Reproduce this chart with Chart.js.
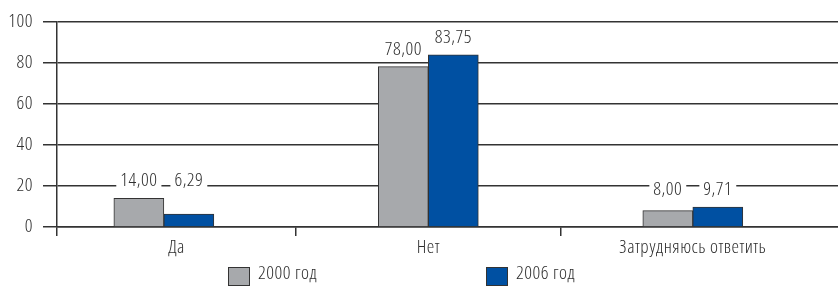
<!DOCTYPE html>
<html>
<head>
<meta charset="utf-8">
<script src="https://cdn.jsdelivr.net/npm/chart.js@4/dist/chart.umd.min.js"></script>
<style>
  html, body { margin: 0; padding: 0; background: #fff; }
  #wrap { width: 838px; height: 286px; }
</style>
</head>
<body>
<div id="wrap"><canvas id="c" width="838" height="286"></canvas></div>
<script>
// ---- data ----
const categories = ['Да', 'Нет', 'Затрудняюсь ответить'];
const seriesNames = ['2000 год', '2006 год'];
const values2000 = [14.00, 78.00, 8.00];
const values2006 = [6.29, 83.75, 9.71];
const yTicks = [0, 20, 40, 60, 80, 100];

// ---- style ----
const FAMILY = "'Open Sans', 'DejaVu Sans Condensed', sans-serif";
const WEIGHT = '330 condensed';
const FSIZE = 19;
const CANVAS_FONT = 'normal ' + WEIGHT + ' ' + FSIZE + 'px ' + FAMILY;
const SPACING = '0.5px';
const TEXT = '#2e2e2e';
const AXIS = '#333333';
const GRAY = '#a7a9ac';
const BLUE = '#0050a2';
const X_MIN = -0.404, X_MAX = 2.549;

const xTickValues = [X_MIN, (X_MIN + 0.5) / 2, 0.5, 1, 1.5, 2];

function fmt(v) { return v.toFixed(2).replace('.', ','); }

const spacingPlugin = {
  id: 'letterSpacing',
  beforeUpdate(chart) { chart.ctx.letterSpacing = SPACING; },
  beforeDraw(chart) { chart.ctx.letterSpacing = SPACING; }
};

const labelPlugin = {
  id: 'valueLabels',
  afterDatasetsDraw(chart) {
    const ctx = chart.ctx;
    const yScale = chart.scales.y;
    ctx.save();
    ctx.font = CANVAS_FONT;
    ctx.textAlign = 'center';
    ctx.textBaseline = 'alphabetic';
    chart.data.datasets.forEach((ds, di) => {
      const meta = chart.getDatasetMeta(di);
      meta.data.forEach((bar, i) => {
        const v = ds.data[i].y;
        const catMax = Math.max(...chart.data.datasets.map(d => d.data[i].y));
        const anchorV = catMax < yTicks[1] ? catMax : v;
        const top = yScale.getPixelForValue(anchorV);
        const base = top - 12;
        const txt = fmt(v);
        const w = ctx.measureText(txt).width;
        ctx.fillStyle = '#ffffff';
        ctx.fillRect(bar.x - w / 2 - 4, base - 18, w + 8, 24);
        ctx.fillStyle = TEXT;
        ctx.fillText(txt, bar.x, base);
      });
    });
    ctx.restore();
  }
};

const legendPlugin = {
  id: 'customLegend',
  afterDraw(chart) {
    const ctx = chart.ctx;
    const area = chart.chartArea;
    ctx.save();
    ctx.font = CANVAS_FONT;
    ctx.textBaseline = 'middle';
    ctx.textAlign = 'left';
    chart.data.datasets.forEach((ds, i) => {
      const x = area.left + 171 + i * 258;
      const y = 267;
      ctx.fillStyle = ds.backgroundColor;
      ctx.fillRect(x, y, 22, 19);
      ctx.strokeStyle = AXIS;
      ctx.lineWidth = 1;
      ctx.strokeRect(x + 0.5, y + 0.5, 21, 18);
      ctx.fillStyle = TEXT;
      ctx.fillText(ds.label, x + 30, y + 7);
    });
    ctx.restore();
  }
};

const toPoints = arr => arr.map((v, i) => ({ x: i, y: v }));
const tickFont = { family: FAMILY, size: FSIZE, weight: WEIGHT };

new Chart(document.getElementById('c'), {
  type: 'bar',
  data: {
    datasets: [
      { label: seriesNames[0], data: toPoints(values2000), backgroundColor: GRAY, borderColor: AXIS, borderWidth: 1, barThickness: 50 },
      { label: seriesNames[1], data: toPoints(values2006), backgroundColor: BLUE, borderColor: AXIS, borderWidth: 1, barThickness: 50 }
    ]
  },
  options: {
    responsive: false,
    animation: false,
    layout: { padding: { top: 16, left: 0, right: 0, bottom: 0 } },
    plugins: { legend: { display: false }, tooltip: { enabled: false } },
    scales: {
      x: {
        type: 'linear',
        min: X_MIN,
        max: X_MAX,
        offset: false,
        grid: {
          display: true,
          offset: false,
          drawOnChartArea: false,
          drawTicks: true,
          tickLength: 9,
          lineWidth: 1.5,
          color: c => (c.index % 2 === 0 ? AXIS : 'rgba(0,0,0,0)')
        },
        border: { display: true, color: AXIS, width: 1.5 },
        afterBuildTicks: s => { s.ticks = xTickValues.map(v => ({ value: v })); },
        ticks: {
          autoSkip: false,
          maxRotation: 0,
          minRotation: 0,
          padding: 0,
          color: TEXT,
          font: tickFont,
          callback: (v, i) => (i % 2 === 1 ? categories[(i - 1) / 2] : '')
        },
        afterFit: s => { s.height = 59; }
      },
      y: {
        min: 0,
        max: 100,
        afterBuildTicks: s => { s.ticks = yTicks.map(v => ({ value: v })); },
        ticks: { padding: 10, color: TEXT, font: tickFont },
        grid: { color: AXIS, lineWidth: 1.5, tickLength: 14, drawTicks: true },
        border: { display: true, color: AXIS, width: 1.5 },
        afterFit: s => { s.width = 57; }
      }
    }
  },
  plugins: [spacingPlugin, labelPlugin, legendPlugin]
});
</script>
</body>
</html>
